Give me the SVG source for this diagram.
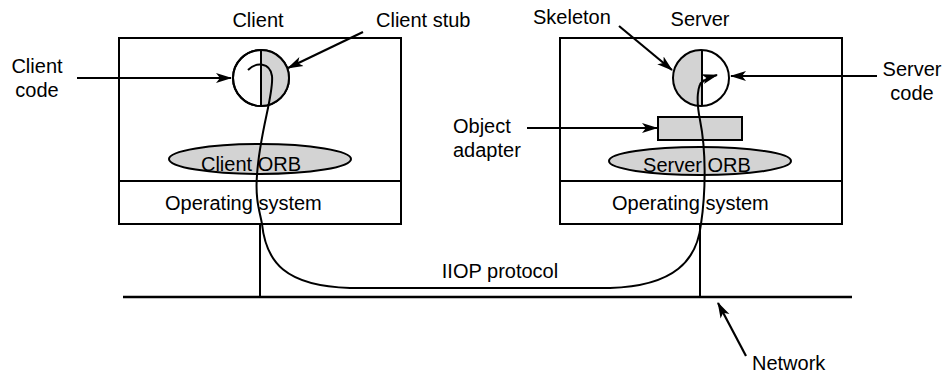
<svg xmlns="http://www.w3.org/2000/svg" width="946" height="374" viewBox="0 0 946 374">
<style>
text{font-family:"Liberation Sans",Arial,sans-serif;font-size:20px;fill:#000}
.m{text-anchor:middle}
.box{fill:#fff;stroke:#000;stroke-width:2}
.g{fill:#d3d3d3;stroke:#000;stroke-width:2}
.ln{fill:none;stroke:#000;stroke-width:2}
.ar{fill:none;stroke:#000;stroke-width:2.2;marker-end:url(#ah)}
</style>
<defs>
<marker id="ah" markerUnits="userSpaceOnUse" markerWidth="16" markerHeight="12" viewBox="0 0 16 12" refX="15" refY="6" orient="auto">
<path d="M0,1 L16,6 L0,11 L4,6 Z" fill="#000"/>
</marker>
</defs>
<g id="client">
<rect class="box" x="119" y="38" width="282" height="186"/>
<line class="ln" x1="119" y1="181" x2="401" y2="181"/>
<text class="m" x="258" y="27">Client</text>
<text x="165" y="210">Operating system</text>
</g>
<g id="client-stub">
<circle cx="261" cy="78" r="28" fill="#fff" stroke="#000" stroke-width="2"/>
<path d="M261,50 A28,28 0 0 1 261,106 Z" fill="#d3d3d3" stroke="none"/>
<circle cx="261" cy="78" r="28" fill="none" stroke="#000" stroke-width="2"/>
<line class="ln" x1="261" y1="50" x2="261" y2="106"/>
</g>
<g id="client-orb">
<ellipse class="g" cx="260" cy="159" rx="91" ry="15"/>
<text class="m" x="251" y="171">Client ORB</text>
</g>
<g id="server">
<rect class="box" x="560" y="38" width="282" height="186"/>
<line class="ln" x1="560" y1="181" x2="842" y2="181"/>
<text class="m" x="700" y="26">Server</text>
<text x="612" y="210">Operating system</text>
</g>
<g id="skeleton">
<circle cx="701" cy="78" r="28" fill="#fff" stroke="none"/>
<path d="M701,50 A28,28 0 0 0 701,106 Z" fill="#d3d3d3" stroke="none"/>
<circle cx="701" cy="78" r="28" fill="none" stroke="#000" stroke-width="2"/>
<line class="ln" x1="702" y1="50" x2="702" y2="106"/>
</g>
<g id="object-adapter">
<rect class="g" x="658" y="117" width="84" height="23"/>
</g>
<g id="server-orb">
<ellipse class="g" cx="700" cy="161" rx="91" ry="14"/>
<text class="m" x="697" y="172">Server ORB</text>
</g>
<g id="network">
<line x1="123" y1="297" x2="852" y2="297" stroke="#000" stroke-width="2.5"/>
<line class="ln" x1="260" y1="224" x2="260" y2="297"/>
<line class="ln" x1="700" y1="224" x2="700" y2="297"/>
</g>
<g id="labels">
<text class="m" x="37" y="73">Client</text>
<text class="m" x="37" y="97">code</text>
<text x="376" y="27">Client stub</text>
<text x="533" y="24">Skeleton</text>
<text x="453" y="133">Object</text>
<text x="453" y="157">adapter</text>
<text class="m" x="912" y="76">Server</text>
<text class="m" x="912" y="100">code</text>
<text class="m" x="500" y="278">IIOP protocol</text>
<text x="752" y="370">Network</text>
</g>
<g id="connectors">
<line class="ar" x1="77" y1="78" x2="231" y2="78"/>
<line class="ar" x1="363" y1="32" x2="288" y2="68"/>
<line class="ar" x1="619" y1="26" x2="672" y2="70"/>
<line class="ar" x1="527" y1="128" x2="657" y2="128"/>
<line class="ar" x1="877" y1="76" x2="731" y2="76"/>
<line class="ar" x1="746" y1="356" x2="718" y2="303"/>
<path class="ln" d="M248,70 C256,62 270,62 272,76 C274,95 260,130 257,175 C255,200 260,212 262,224 C266,262 285,286 350,288 L610,288 C675,286 697,260 701,224 C706,190 706,150 700,120 C696,100 697,84 704,80"/>
<path class="ar" d="M700,84 C704,80 710,77 717,75"/>
</g>
</svg>
